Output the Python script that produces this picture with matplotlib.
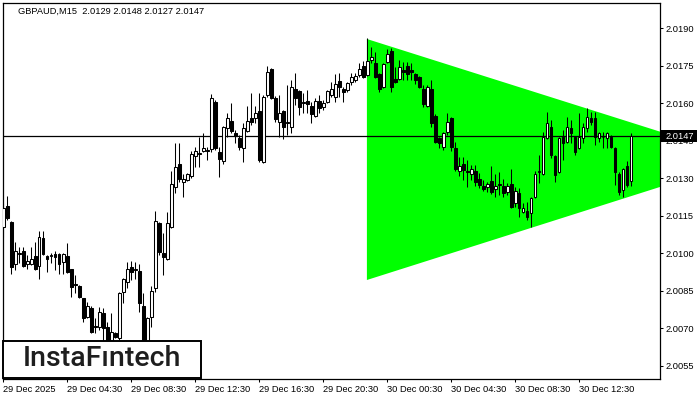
"""
GBPAUD M15 candles with a bullish symmetrical triangle (InstaFintech style chart)
"""

import matplotlib
matplotlib.use("Agg")
import matplotlib.pyplot as plt
from matplotlib.patches import Rectangle, Polygon

# ─────────────────────────────────────────────
# DATA
# ─────────────────────────────────────────────

SYMBOL = "GBPAUD,M15"

OPENS = [
    2.01105, 2.01189, 2.01125, 2.00957, 2.00997, 2.01009, 2.00957, 2.00957, 2.00989, 2.00949,
    2.01061, 2.00989, 2.00989, 2.00997, 2.00997, 2.00965, 2.00989, 2.00937, 2.00877, 2.00869,
    2.00821, 2.00745, 2.00781, 2.00709, 2.00705, 2.00761, 2.00705, 2.00653, 2.00681, 2.00661,
    2.00845, 2.00885, 2.00945, 2.00933, 2.00929, 2.00789, 2.00633, 2.00745, 2.00861, 2.01121,
    2.01001, 2.00977, 2.01105, 2.01265, 2.01357, 2.01285, 2.01293, 2.01309, 2.01389, 2.01397,
    2.01409, 2.01409, 2.01417, 2.01605, 2.01405, 2.01369, 2.01501, 2.01529, 2.01481, 2.01461,
    2.01421, 2.01489, 2.01541, 2.01541, 2.01569, 2.01365, 2.01633, 2.01737, 2.01621, 2.01525,
    2.01569, 2.01521, 2.01505, 2.01657, 2.01649, 2.01601, 2.01609, 2.01589, 2.01549, 2.01609,
    2.01585, 2.01605, 2.01633, 2.01625, 2.01689, 2.01657, 2.01653, 2.01685, 2.01693, 2.01713,
    2.01749, 2.01713, 2.01773, 2.01761, 2.01717, 2.01665, 2.01765, 2.01809, 2.01697, 2.01697,
    2.01733, 2.01749, 2.01733, 2.01717, 2.01705, 2.01657, 2.01589, 2.01657, 2.01549, 2.01461,
    2.01425, 2.01485, 2.01541, 2.01421, 2.01329, 2.01357, 2.01329, 2.01317, 2.01329, 2.01297,
    2.01269, 2.01265, 2.01289, 2.01257, 2.01277, 2.01269, 2.01245, 2.01277, 2.01201, 2.01241,
    2.01165, 2.01169, 2.01161, 2.01225, 2.01325, 2.01317, 2.01461, 2.01505, 2.01389, 2.01325,
    2.01465, 2.01445, 2.01501, 2.01465, 2.01421, 2.01461, 2.01501, 2.01541, 2.01541, 2.01461,
    2.01465, 2.01461, 2.01465, 2.01421, 2.01317, 2.01253, 2.01349, 2.0129,
]
HIGHS = [
    2.01201, 2.01229, 2.01129, 2.01045, 2.01025, 2.01025, 2.00993, 2.01025, 2.01045, 2.01089,
    2.01089, 2.00993, 2.01001, 2.01009, 2.01001, 2.01001, 2.01041, 2.00937, 2.00913, 2.00873,
    2.00821, 2.00805, 2.00789, 2.00741, 2.00785, 2.00781, 2.00725, 2.00761, 2.00685, 2.00845,
    2.00901, 2.00965, 2.00969, 2.00965, 2.00957, 2.00841, 2.00745, 2.00869, 2.01169, 2.01125,
    2.01081, 2.01165, 2.01329, 2.01441, 2.01441, 2.01317, 2.01321, 2.01409, 2.01425, 2.01465,
    2.01481, 2.01425, 2.01637, 2.01613, 2.01425, 2.01509, 2.01561, 2.01601, 2.01493, 2.01473,
    2.01521, 2.01589, 2.01641, 2.01589, 2.01641, 2.01633, 2.01749, 2.01741, 2.01629, 2.01633,
    2.01573, 2.01673, 2.01693, 2.01721, 2.01653, 2.01641, 2.01653, 2.01605, 2.01621, 2.01633,
    2.01613, 2.01653, 2.01685, 2.01717, 2.01721, 2.01665, 2.01685, 2.01721, 2.01721, 2.01761,
    2.01769, 2.01861, 2.01825, 2.01805, 2.01721, 2.01761, 2.01817, 2.01821, 2.01745, 2.01773,
    2.01765, 2.01765, 2.01761, 2.01721, 2.01709, 2.01673, 2.01673, 2.01693, 2.01557, 2.01465,
    2.01485, 2.01561, 2.01545, 2.01445, 2.01385, 2.01385, 2.01373, 2.01353, 2.01353, 2.01321,
    2.01293, 2.01285, 2.01349, 2.01317, 2.01325, 2.01297, 2.01281, 2.01337, 2.01265, 2.01261,
    2.01201, 2.01205, 2.01225, 2.01329, 2.01393, 2.01485, 2.01565, 2.01533, 2.01393, 2.01465,
    2.01493, 2.01545, 2.01533, 2.01469, 2.01561, 2.01521, 2.01581, 2.01565, 2.01565, 2.01485,
    2.01485, 2.01485, 2.01473, 2.01425, 2.01325, 2.01341, 2.01369, 2.0148,
]
LOWS = [
    2.01065, 2.01133, 2.00917, 2.00933, 2.00961, 2.00945, 2.00937, 2.00953, 2.00933, 2.00897,
    2.00993, 2.00925, 2.00961, 2.00933, 2.00917, 2.00917, 2.00921, 2.00825, 2.00841, 2.00821,
    2.00725, 2.00741, 2.00681, 2.00681, 2.00693, 2.00645, 2.00629, 2.00645, 2.00661, 2.00653,
    2.00801, 2.00861, 2.00893, 2.00897, 2.00765, 2.00605, 2.00613, 2.00705, 2.00845, 2.00993,
    2.00913, 2.00973, 2.01101, 2.01241, 2.01285, 2.01225, 2.01289, 2.01301, 2.01345, 2.01345,
    2.01405, 2.01373, 2.01405, 2.01413, 2.01305, 2.01357, 2.01465, 2.01481, 2.01441, 2.01413,
    2.01365, 2.01485, 2.01513, 2.01521, 2.01365, 2.01361, 2.01625, 2.01617, 2.01525, 2.01465,
    2.01457, 2.01473, 2.01481, 2.01593, 2.01553, 2.01561, 2.01561, 2.01521, 2.01545, 2.01561,
    2.01573, 2.01601, 2.01625, 2.01605, 2.01625, 2.01605, 2.01645, 2.01673, 2.01685, 2.01705,
    2.01701, 2.01709, 2.01761, 2.01701, 2.01645, 2.01661, 2.01761, 2.01645, 2.01681, 2.01693,
    2.01693, 2.01693, 2.01693, 2.01677, 2.01661, 2.01585, 2.01585, 2.01505, 2.01441, 2.01421,
    2.01413, 2.01473, 2.01409, 2.01329, 2.01309, 2.01293, 2.01265, 2.01293, 2.01269, 2.01261,
    2.01249, 2.01245, 2.01237, 2.01225, 2.01233, 2.01225, 2.01233, 2.01181, 2.01185, 2.01145,
    2.01161, 2.01133, 2.01105, 2.01221, 2.01281, 2.01313, 2.01457, 2.01381, 2.01285, 2.01321,
    2.01373, 2.01441, 2.01441, 2.01393, 2.01417, 2.01441, 2.01485, 2.01513, 2.01433, 2.01445,
    2.01421, 2.01421, 2.01421, 2.01273, 2.01233, 2.01225, 2.01265, 2.0127,
]
CLOSES = [
    2.01181, 2.01141, 2.00945, 2.01009, 2.01001, 2.00949, 2.00969, 2.00977, 2.00937, 2.01065,
    2.00997, 2.00977, 2.00993, 2.00985, 2.00957, 2.00997, 2.00925, 2.00865, 2.00873, 2.00825,
    2.00741, 2.00789, 2.00685, 2.00705, 2.00765, 2.00701, 2.00645, 2.00685, 2.00665, 2.00841,
    2.00897, 2.00937, 2.00925, 2.00937, 2.00801, 2.00633, 2.00741, 2.00849, 2.01129, 2.01005,
    2.00985, 2.01121, 2.01277, 2.01345, 2.01297, 2.01297, 2.01317, 2.01397, 2.01409, 2.01401,
    2.01421, 2.01413, 2.01621, 2.01421, 2.01377, 2.01505, 2.01541, 2.01489, 2.01469, 2.01425,
    2.01501, 2.01529, 2.01525, 2.01561, 2.01373, 2.01625, 2.01725, 2.01621, 2.01537, 2.01561,
    2.01505, 2.01525, 2.01665, 2.01621, 2.01585, 2.01605, 2.01597, 2.01557, 2.01609, 2.01581,
    2.01601, 2.01649, 2.01657, 2.01677, 2.01665, 2.01645, 2.01681, 2.01705, 2.01709, 2.01737,
    2.01705, 2.01769, 2.01785, 2.01705, 2.01657, 2.01757, 2.01797, 2.01665, 2.01685, 2.01745,
    2.01725, 2.01717, 2.01725, 2.01693, 2.01665, 2.01597, 2.01665, 2.01521, 2.01445, 2.01441,
    2.01481, 2.01525, 2.01425, 2.01337, 2.01349, 2.01333, 2.01325, 2.01337, 2.01285, 2.01273,
    2.01257, 2.01277, 2.01245, 2.01269, 2.01273, 2.01241, 2.01269, 2.01185, 2.01249, 2.01181,
    2.01181, 2.01145, 2.01221, 2.01317, 2.01329, 2.01465, 2.01521, 2.01393, 2.01313, 2.01461,
    2.01441, 2.01505, 2.01481, 2.01405, 2.01465, 2.01505, 2.01545, 2.01525, 2.01465, 2.01481,
    2.01465, 2.01481, 2.01425, 2.01325, 2.01245, 2.01337, 2.01273, 2.0147,
]

TIME_LABELS = ["29 Dec 2025", "29 Dec 04:30", "29 Dec 08:30", "29 Dec 12:30", "29 Dec 16:30",
               "29 Dec 20:30", "30 Dec 00:30", "30 Dec 04:30", "30 Dec 08:30", "30 Dec 12:30"]
BARS_PER_LABEL = 16

PRICE_TICKS = [2.0190, 2.0175, 2.0160, 2.0145, 2.0130, 2.0115, 2.0100, 2.0085, 2.0070, 2.0055]
LAST_PRICE = 2.0147

# triangle pattern: left edge (bar, upper, lower) and apex (bar, price)
TRI_LEFT_BAR = 90.9
TRI_UPPER = 2.01857
TRI_LOWER = 2.00893
TRI_APEX_BAR = 186
TRI_APEX_PRICE = 2.01376

# ─────────────────────────────────────────────
# STYLE
# ─────────────────────────────────────────────

W, H = 700, 400
FONT = "Liberation Sans"
FS = 6.7
GREEN = "#00ff00"
LW = 0.75


def px_x(x):
    return x / W


def px_y(y):
    return 1 - y / H


def main():
    fig = plt.figure(figsize=(W / 100, H / 100), dpi=100)
    fig.patch.set_facecolor("white")
    ax = fig.add_axes([px_x(2.5), px_y(379), (659.5 - 2.5) / W, (379 - 2.5) / H])

    # triangle (behind everything)
    tri = Polygon([(TRI_LEFT_BAR, TRI_UPPER), (TRI_APEX_BAR, TRI_APEX_PRICE), (TRI_LEFT_BAR, TRI_LOWER)],
                  closed=True, facecolor=GREEN, edgecolor="none", zorder=1)
    ax.add_patch(tri)

    # last price line
    ax.axhline(LAST_PRICE, color="black", lw=0.9, zorder=2)

    # candles
    body_w = 0.6
    for i, (o, h, l, c) in enumerate(zip(OPENS, HIGHS, LOWS, CLOSES)):
        ax.vlines(i, l, h, color="black", lw=LW, zorder=3)
        bull = c >= o
        ax.add_patch(Rectangle((i - body_w / 2, min(o, c)), body_w, abs(c - o),
                               facecolor="white" if bull else "black",
                               edgecolor="black", lw=LW, zorder=4))

    ax.set_xlim(-0.2, 164.05)
    ax.set_ylim(2.00497, 2.02003)

    # axes / ticks
    for s in ax.spines.values():
        s.set_color("black")
        s.set_linewidth(0.9)
    ax.yaxis.tick_right()
    ax.set_yticks(PRICE_TICKS)
    ax.set_yticklabels([f"{p:.4f}" for p in PRICE_TICKS], fontfamily=FONT, fontsize=FS)
    ax.set_xticks([k * BARS_PER_LABEL for k in range(len(TIME_LABELS))])
    ax.set_xticklabels(TIME_LABELS, fontfamily=FONT, fontsize=FS, ha="left")
    ax.tick_params(axis="both", length=2.5, width=0.75, colors="black", pad=2)

    # title
    fig.text(px_x(18), px_y(11), f"{SYMBOL}  2.0129 2.0148 2.0127 2.0147",
             fontfamily=FONT, fontsize=FS, va="center", ha="left", color="black")

    # current price box on the price scale
    fig.patches.append(Rectangle((px_x(660), px_y(142)), 37 / W, 11.5 / H,
                                 transform=fig.transFigure, facecolor="black",
                                 edgecolor="none", zorder=5))
    fig.text(px_x(666), px_y(136.3), f"{LAST_PRICE:.4f}", fontfamily=FONT, fontsize=FS,
             color="white", va="center", ha="left", zorder=6)

    # logo box
    fig.patches.append(Rectangle((px_x(3), px_y(378)), 198 / W, 37 / H,
                                 transform=fig.transFigure, facecolor="white",
                                 edgecolor="black", lw=1.4, zorder=5))
    fig.text(px_x(102), px_y(359), "InstaF\u0131ntech", fontfamily="Roboto", fontsize=20.5,
             fontweight="medium", color="#1e1e1e", va="center", ha="center", zorder=6)

    fig.savefig("out.png", dpi=100)


if __name__ == "__main__":
    main()
